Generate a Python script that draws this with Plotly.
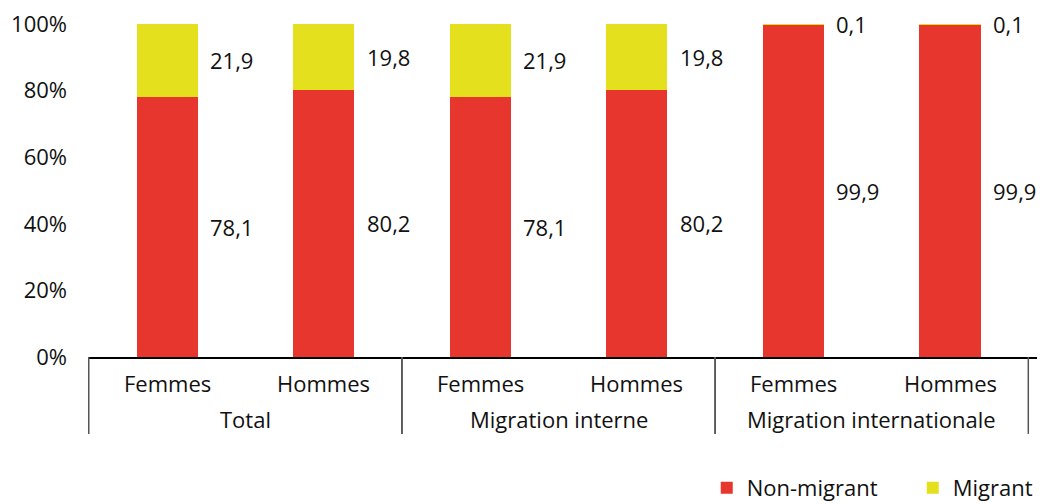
import plotly.graph_objects as go

groups = ["Total", "Total", "Migration interne", "Migration interne",
          "Migration internationale", "Migration internationale"]
sexes = ["Femmes", "Hommes", "Femmes", "Hommes", "Femmes", "Hommes"]
non_migrant = [78.1, 80.2, 78.1, 80.2, 99.9, 99.9]
migrant = [21.9, 19.8, 21.9, 19.8, 0.1, 0.1]

RED = "#E6362E"
YELLOW = "#E5E01E"
FONT = "Open Sans"
FS = 22

fig = go.Figure()
fig.add_trace(go.Bar(x=[groups, sexes], y=non_migrant, name="Non-migrant",
                     marker=dict(color=RED, line=dict(width=0))))
fig.add_trace(go.Bar(x=[groups, sexes], y=migrant, name="Migrant",
                     marker=dict(color=YELLOW, line=dict(width=0))))

# value labels to the right of each bar segment
for i, (nm, mg) in enumerate(zip(non_migrant, migrant)):
    for val, ypos in ((nm, nm / 2), (mg, nm + mg / 2)):
        fig.add_annotation(x=i, y=ypos, xref="x", yref="y",
                           text=f"{val:.1f}".replace(".", ","),
                           showarrow=False, xanchor="left", xshift=42,
                           borderpad=0,
                           font=dict(size=FS, color="#111"))

# two-level category labels and group dividers drawn under the axis
for i, s in enumerate(sexes):
    fig.add_annotation(x=i, y=-0.078, xref="x", yref="paper", text=s,
                       showarrow=False, yanchor="middle", font=dict(size=FS))
group_names = list(dict.fromkeys(groups))
for g in group_names:
    idx = [i for i, v in enumerate(groups) if v == g]
    fig.add_annotation(x=sum(idx) / len(idx), y=-0.186, xref="x", yref="paper",
                       text=g, showarrow=False, yanchor="middle",
                       font=dict(size=FS))
    for edge in (idx[0] - 0.5, idx[-1] + 0.5):
        fig.add_shape(type="line", xref="x", yref="paper", x0=edge, x1=edge,
                      y0=0, y1=-0.231, line=dict(color="#555", width=1.5))

# page body adds an 8px margin, so the figure is sized to fit inside it
fig.update_layout(
    barmode="stack",
    bargap=0.61,
    width=1039, height=496,
    margin=dict(l=80, r=10, t=16, b=147, autoexpand=False),
    plot_bgcolor="white", paper_bgcolor="white",
    font=dict(family=FONT, size=FS, color="#111"),
    legend=dict(orientation="h", traceorder="normal",
                x=0.652, xanchor="left", y=-0.33, yanchor="top",
                entrywidth=161, font=dict(size=FS)),
    showlegend=True,
)
fig.update_xaxes(type="multicategory", showline=True, linecolor="black",
                 linewidth=1.5, showdividers=False, showticklabels=False,
                 automargin=False)
fig.update_yaxes(range=[0, 100], dtick=20, ticksuffix="%", showgrid=False,
                 zeroline=False, showline=False, ticklabelstandoff=20,
                 ticklabeloverflow="allow",
                 tickfont=dict(size=FS), automargin=False)

fig.write_html("out.html")
